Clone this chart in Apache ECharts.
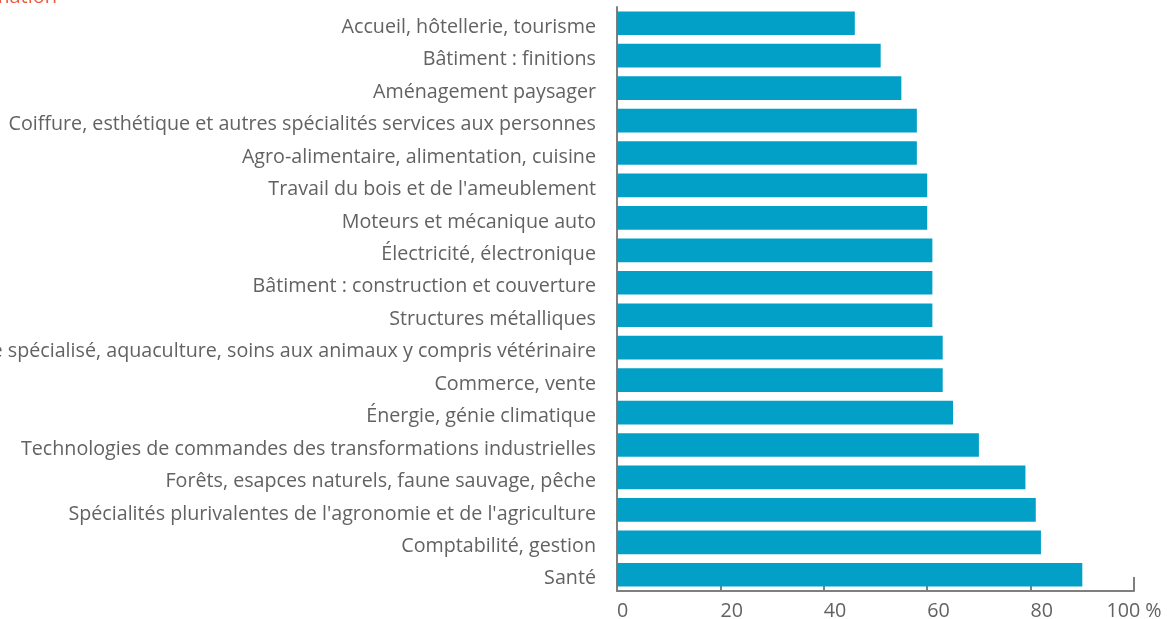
<!DOCTYPE html>
<html>
<head>
<meta charset="utf-8">
<script src="https://cdn.jsdelivr.net/npm/echarts@6/dist/echarts.min.js"></script>
<style>
  html, body { margin: 0; padding: 0; background: #ffffff; }
  #chart { width: 1167px; height: 619px; }
</style>
</head>
<body>
<div id="chart"></div>
<script>
// ---- Data (top to bottom) ----
const categories = [
  "Accueil, hôtellerie, tourisme",
  "Bâtiment : finitions",
  "Aménagement paysager",
  "Coiffure, esthétique et autres spécialités services aux personnes",
  "Agro-alimentaire, alimentation, cuisine",
  "Travail du bois et de l'ameublement",
  "Moteurs et mécanique auto",
  "Électricité, électronique",
  "Bâtiment : construction et couverture",
  "Structures métalliques",
  "Productions animales, élevage spécialisé, aquaculture, soins aux animaux y compris vétérinaire",
  "Commerce, vente",
  "Énergie, génie climatique",
  "Technologies de commandes des transformations industrielles",
  "Forêts, esapces naturels, faune sauvage, pêche",
  "Spécialités plurivalentes de l'agronomie et de l'agriculture",
  "Comptabilité, gestion",
  "Santé"
];
const values = [46, 51, 55, 58, 58, 60, 60, 61, 61, 61, 63, 63, 65, 70, 79, 81, 82, 90];
const xTicks = [0, 20, 40, 60, 80, 100];
const titleText = "formation";

// ---- Styling ----
const FONT = "'Open Sans', sans-serif";
const ctx = document.createElement('canvas').getContext('2d');
ctx.font = "100px " + FONT;
const refW = ctx.measureText(categories[3]).width;
const fs = Math.round(100 * 588 / refW * 10) / 10;

const chart = echarts.init(document.getElementById('chart'), null, { renderer: 'canvas' });
const axisGray = '#7f7f7f';
const textGray = '#626262';
chart.setOption({
  animation: false,
  backgroundColor: '#ffffff',
  textStyle: { fontFamily: FONT },
  title: {
    text: titleText,
    right: 1110,
    top: -13,
    padding: 0,
    textStyle: { color: '#ef5a3c', fontSize: 20, fontWeight: 'normal', fontFamily: FONT }
  },
  grid: { left: 617, right: 33, top: 7, bottom: 28, containLabel: false, outerBoundsMode: 'none' },
  xAxis: [{
    type: 'value',
    min: 0, max: 100, interval: 20,
    position: 'bottom',
    axisLine: { show: true, lineStyle: { color: axisGray, width: 2 } },
    axisTick: { show: true, inside: true, length: 5, lineStyle: { color: axisGray, width: 2 } },
    splitLine: { show: false },
    axisLabel: {
      color: textGray, fontSize: fs, fontFamily: FONT, margin: 10,
      align: 'left', alignMaxLabel: 'center', hideOverlap: false,
      showMinLabel: true, showMaxLabel: true,
      formatter: v => (xTicks.indexOf(v) === xTicks.length - 1 ? v + ' %' : String(v))
    }
  }, {
    type: 'value',
    min: 0, max: 100, interval: 100,
    position: 'bottom',
    axisLine: { show: false },
    axisTick: { show: true, inside: true, length: 14, lineStyle: { color: axisGray, width: 2 }, customValues: [100] },
    axisLabel: { show: false },
    splitLine: { show: false }
  }],
  yAxis: {
    type: 'category',
    data: categories,
    inverse: true,
    axisLine: { show: true, lineStyle: { color: axisGray, width: 2 } },
    axisTick: { show: false },
    axisLabel: {
      color: textGray, fontSize: fs, fontFamily: FONT, margin: 21, interval: 0,
      formatter: v => '{a|' + v + '}',
      rich: { a: { color: textGray, fontSize: fs, fontFamily: FONT, padding: [8, 0, 0, 0] } }
    }
  },
  series: [{
    type: 'bar',
    data: values,
    barCategoryGap: '27%',
    itemStyle: { color: '#02a0c6' },
    silent: true
  }]
});
</script>
</body>
</html>
